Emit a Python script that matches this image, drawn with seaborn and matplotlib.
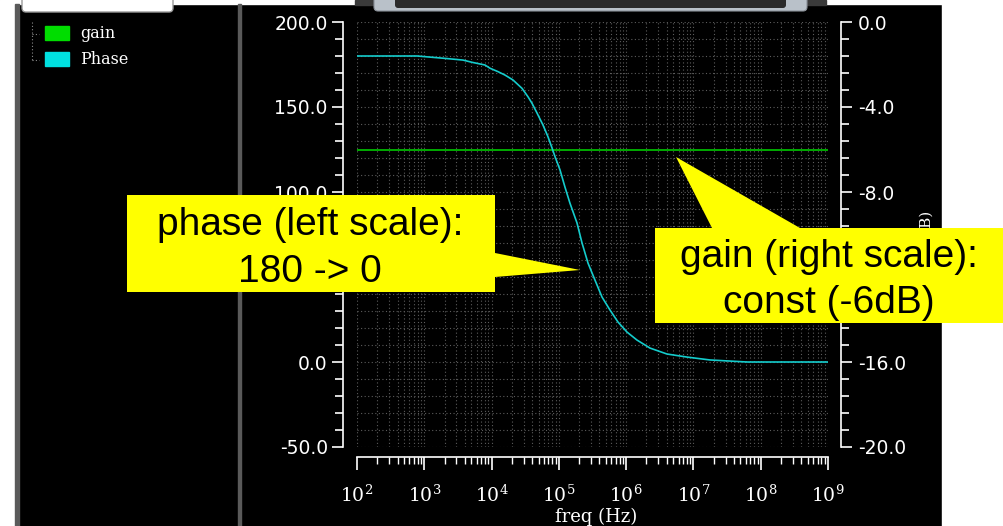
import numpy as np
import pandas as pd
import matplotlib
matplotlib.use("Agg")
import matplotlib.pyplot as plt
import seaborn as sns
from matplotlib.patches import Polygon, Rectangle, FancyBboxPatch
from matplotlib.ticker import FixedLocator, MultipleLocator, FuncFormatter, NullFormatter

# ---------------- data ----------------
freq_hz = [1e2, 7.8e2, 2.03e3, 3.76e3, 5.11e3, 7.98e3, 9.48e3, 1.245e4, 1.58e4, 2.08e4,
           2.83e4, 3.48e4, 3.99e4, 4.73e4, 5.81e4, 6.89e4, 7.9e4, 8.77e4, 1.04e5, 1.23e5,
           1.46e5, 1.86e5, 2.21e5, 2.71e5, 3.44e5, 4.38e5, 5.75e5, 7.57e5, 1.03e6, 1.45e6,
           2.26e6, 4.04e6, 8.02e6, 1.76e7, 6.25e7, 1e9]
phase_deg = [180, 180, 178.6, 177.6, 176.3, 174.7, 172.8, 170.8, 168.8, 165.9,
             161, 156, 152.2, 146.5, 139.4, 132.5, 126, 120.8, 113, 103,
             93.5, 81.8, 70, 58.2, 48.2, 38.2, 30.6, 23.5, 17.6, 12.9,
             8.2, 4.7, 2.9, 1.2, 0, 0]
gain_freq = [1e2, 1e9]
gain_db = [-6.0, -6.0]

x_ticks = [1e2, 1e3, 1e4, 1e5, 1e6, 1e7, 1e8, 1e9]
x_minor_ticks = [m * d for d in [1e2, 1e3, 1e4, 1e5, 1e6, 1e7, 1e8] for m in range(2, 10)]
left_ticks = [-50.0, 0.0, 50.0, 100.0, 150.0, 200.0]
right_ticks = [-20.0, -16.0, -12.0, -8.0, -4.0, 0.0]
legend_names = ["gain", "Phase"]
callout_phase = ["phase (left scale):", "180 -> 0"]
callout_gain = ["gain (right scale):", "const (-6dB)"]

phase_df = pd.DataFrame({"freq": freq_hz, "phase": phase_deg})
gain_df = pd.DataFrame({"freq": gain_freq, "gain": gain_db})

# ---------------- style ----------------
sns.set_theme(style="dark")
plt.rcParams["font.family"] = ["DejaVu Sans"]
plt.rcParams["mathtext.fontset"] = "dejavuserif"

W, H = 1004, 526
fig = plt.figure(figsize=(W / 100, H / 100), dpi=100, facecolor="black")

CYAN = "#14CCCC"
GREEN = "#00C800"

# background / frame axes in pixel coordinates
bg = fig.add_axes([0, 0, 1, 1], zorder=0)
bg.set_xlim(0, W)
bg.set_ylim(H, 0)
bg.axis("off")
bg.add_patch(Rectangle((0, 0), W, H, color="black"))
bg.add_patch(Rectangle((0, 0), 15, H, color="white"))
bg.add_patch(Rectangle((942, 0), W - 942, H, color="white"))
bg.add_patch(Rectangle((0, 0), W, 4, color="white"))
bg.add_patch(Rectangle((15, 4), 4, H, color="#5a5a5a"))
bg.add_patch(Rectangle((238.5, 4), 2.5, H, color="#5a5a5a"))
bg.add_patch(FancyBboxPatch((22, -10), 151, 22, boxstyle="round,pad=0,rounding_size=4",
                            facecolor="white", edgecolor="#9a9a9a", linewidth=1))
bg.add_patch(Rectangle((355, 0), 471, 5, color="#3a3a3a"))
bg.add_patch(FancyBboxPatch((374, -8), 433, 19, boxstyle="round,pad=0,rounding_size=4",
                            facecolor="#b9c1c9", edgecolor="#8a9098", linewidth=0.8))
bg.add_patch(FancyBboxPatch((395, -8), 391, 16, boxstyle="round,pad=0,rounding_size=3",
                            facecolor="#2b2b2b", edgecolor="none"))
# legend tree
bg.plot([32, 32], [22, 61], color="#8a8a8a", lw=0.8, ls=(0, (1, 2)))
bg.plot([32, 39], [34, 34], color="#8a8a8a", lw=0.8, ls=(0, (1, 2)))
bg.plot([32, 39], [60, 60], color="#8a8a8a", lw=0.8, ls=(0, (1, 2)))
for name, col, yy in zip(legend_names, ["#00DD00", "#00E0E0"], [33, 59]):
    bg.add_patch(Rectangle((45, yy - 7), 24, 14, color=col))
    bg.text(80, yy + 1, name, color="white", fontsize=11.5, family="DejaVu Serif",
            va="center", ha="left")

# ---------------- main axes ----------------
x0, x1, y0, y1 = 357, 828, 22, 447
pos = [x0 / W, 1 - y1 / H, (x1 - x0) / W, (y1 - y0) / H]
ax = fig.add_axes(pos)
ax2 = ax.twinx()
ax2.set_zorder(2)
ax.set_zorder(3)
ax.patch.set_visible(False)
ax2.patch.set_visible(True)
ax2.patch.set_facecolor("black")

sns.lineplot(data=gain_df, x="freq", y="gain", ax=ax2, color=GREEN, lw=1.2, zorder=3)
sns.lineplot(data=phase_df, x="freq", y="phase", ax=ax, color=CYAN, lw=1.2, zorder=4)

ax.set_xscale("log")
ax.set_xlim(1e2, 1e9)
ax.set_ylim(-50, 200)
ax2.set_ylim(-20, 0)

ax.xaxis.set_major_locator(FixedLocator(x_ticks))
ax.xaxis.set_minor_locator(FixedLocator(x_minor_ticks))
ax.xaxis.set_major_formatter(FuncFormatter(lambda v, p: r"$10^{%d}$" % int(round(np.log10(v)))))
ax.xaxis.set_minor_formatter(NullFormatter())
ax.yaxis.set_major_locator(FixedLocator(left_ticks))
ax.yaxis.set_minor_locator(MultipleLocator(10))
ax.yaxis.set_major_formatter(FuncFormatter(lambda v, p: f"{v:.1f}"))
ax2.yaxis.set_major_locator(FixedLocator(right_ticks))
ax2.yaxis.set_minor_locator(MultipleLocator(0.8))
ax2.yaxis.set_major_formatter(FuncFormatter(lambda v, p: f"{v:.1f}"))

ax.set_xlabel("")
ax.set_ylabel("")
ax2.set_xlabel("")
ax2.set_ylabel("")

# grid lives on the lower (gain) axes so that the curves sit on top of it
ax2.xaxis.set_visible(True)
ax.grid(False)
ax2.grid(True, which="both", axis="both", color="#5c5c5c", lw=0.8, ls=(0, (1, 2.2)), zorder=0)
ax2.set_axisbelow(True)

for a in (ax, ax2):
    for s in a.spines.values():
        s.set_visible(False)
ax.spines["left"].set_visible(True)
ax.spines["left"].set_position(("outward", 10))
ax.spines["bottom"].set_visible(True)
ax.spines["bottom"].set_position(("outward", 7.2))
ax2.spines["right"].set_visible(True)
ax2.spines["right"].set_position(("outward", 9.4))
for s in [ax.spines["left"], ax.spines["bottom"], ax2.spines["right"]]:
    s.set_color("white")
    s.set_linewidth(1.2)

ax.tick_params(axis="y", which="major", direction="out", length=8, width=1.2, color="white",
               labelcolor="white", labelsize=13.5, pad=3, left=True, right=False)
ax.tick_params(axis="y", which="minor", direction="out", length=6, width=1.2, color="white",
               left=True, right=False)
ax.tick_params(axis="x", which="major", direction="out", length=9, width=1.2, color="white",
               labelcolor="white", labelsize=13.5, pad=11, bottom=True, top=False)
ax.tick_params(axis="x", which="minor", direction="out", length=5, width=1.0, color="white",
               bottom=True, top=False)
ax2.tick_params(axis="y", which="major", direction="out", length=8, width=1.2, color="white",
                labelcolor="white", labelsize=13.5, pad=4, right=True, left=False)
ax2.tick_params(axis="y", which="minor", direction="out", length=6, width=1.2, color="white",
                right=True, left=False)
ax2.tick_params(axis="x", which="both", bottom=False, top=False,
                labelbottom=False, labeltop=False)

# axis labels (pixel placed)
bg.text(596, 517, "freq (Hz)", color="white", fontsize=13, family="DejaVu Serif",
        ha="center", va="center")
ov = fig.add_axes([0, 0, 1, 1], zorder=10)
ov.set_xlim(0, W)
ov.set_ylim(H, 0)
ov.axis("off")
ov.patch.set_visible(False)
ov.text(927, 211, "gain (dB)", color="white", fontsize=11, family="DejaVu Serif",
        rotation=90, ha="center", va="top", zorder=1)

# ---------------- callouts ----------------
YEL = "#FFFF00"
ov.add_patch(Polygon([(127, 195), (495, 195), (495, 253), (580, 270), (495, 277),
                      (495, 292), (127, 292)], closed=True, facecolor=YEL,
                     edgecolor="none", zorder=5))
ov.add_patch(Polygon([(655, 228), (712, 228), (676, 157), (800, 228), (1004, 228),
                      (1004, 323), (655, 323)], closed=True, facecolor=YEL,
                     edgecolor="none", zorder=5))
for txt, yb in zip(callout_phase, [235, 282]):
    ov.text(310, yb, txt, fontsize=28, family="Liberation Sans", color="black",
            ha="center", va="baseline", zorder=6)
for txt, yb in zip(callout_gain, [267, 313]):
    ov.text(829, yb, txt, fontsize=28, family="Liberation Sans", color="black",
            ha="center", va="baseline", zorder=6)

fig.savefig("out.png", dpi=100, facecolor="black")
